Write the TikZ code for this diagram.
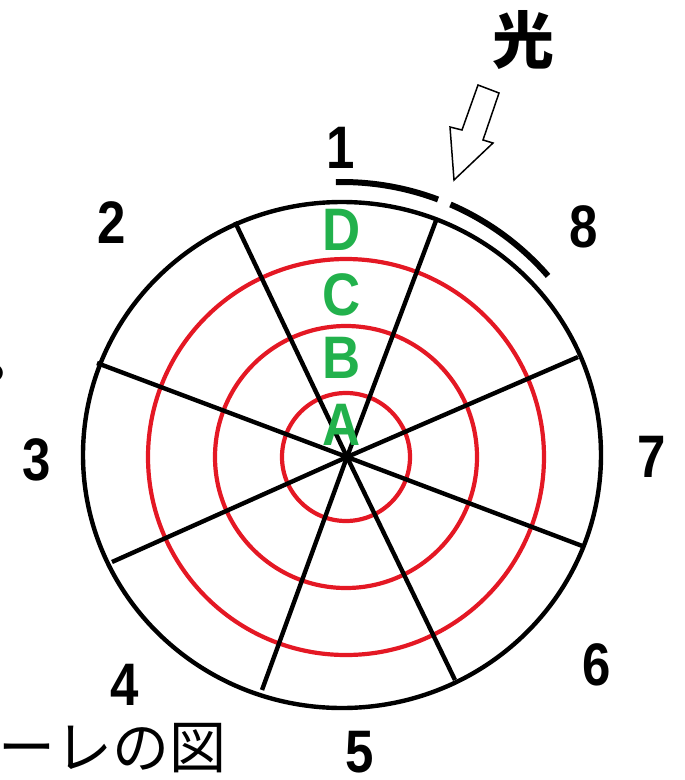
\documentclass[tikz,border=0pt]{standalone}
\usepackage{fontspec}
\setmainfont{Liberation Sans}
\newfontfamily\jp{Noto Sans CJK JP}
\definecolor{lgreen}{RGB}{34,177,76}
\definecolor{lred}{RGB}{228,24,36}
\begin{document}
\begin{tikzpicture}[x=1pt,y=-1pt,
  num/.style={font=\fontsize{60}{60}\selectfont\bfseries, inner sep=0pt, xscale=0.85},
  zone/.style={font=\fontsize{60}{60}\selectfont\bfseries, text=lgreen, inner sep=0pt, xscale=0.88},
  spoke/.style={line width=4.4pt, black},
  ring/.style={line width=4.2pt, lred},
  rim/.style={line width=4.4pt, black},
  lightarc/.style={line width=6pt, black},
  hollowarrow/.style={draw=black, fill=white, line width=1.5pt, line join=miter}]
\useasboundingbox (0,0) rectangle (685,780);
% centres
\coordinate (O) at (347,457);
\coordinate (E) at (342,455);
% outer rim
\draw[rim] (E) ellipse [x radius=259pt, y radius=253pt];
% red rings
\draw[ring] (346,457) circle [radius=64pt];
\draw[ring] (346,457) circle [radius=131pt];
\draw[ring] (346,457) circle [radius=198pt];
% spoke ends
\coordinate (s1) at (437,218);
\coordinate (s2) at (235,222);
\coordinate (s3) at (97,363);
\coordinate (s4) at (112,562);
\coordinate (s5) at (262,690);
\coordinate (s6) at (455,680);
\coordinate (s7) at (585,547);
\coordinate (s8) at (578,357);
\foreach \s in {s1,s2,s3,s4,s5,s6,s7,s8}{\draw[spoke] (O) -- (\s);}
% thick arc showing lit side
\draw[lightarc] ([shift={(E)}]91.3:273pt) arc[start angle=91.3, end angle=69.4, radius=273pt];
\draw[lightarc] ([shift={(E)}]66.6:273pt) arc[start angle=66.6, end angle=41, radius=273pt];
% light arrow
\draw[hollowarrow] (478,85) -- (499,93) -- (483,140) -- (493,143) -- (454,180) -- (450,127) -- (462,130) -- cycle;
\node[font=\jp\bfseries\fontsize{62}{62}\selectfont, inner sep=0pt] (light) at (523,40) {光};
% sector numbers
\node[num] (n1) at (341,148) {1};
\node[num] (n2) at (112,223) {2};
\node[num] (n3) at (37,460) {3};
\node[num] (n4) at (125,685) {4};
\node[num] (n5) at (360,752) {5};
\node[num] (n6) at (597,665) {6};
\node[num] (n7) at (652,457) {7};
\node[num] (n8) at (584,227) {8};
% zone letters
\node[zone] (zD) at (342,230) {D};
\node[zone] (zC) at (342,295) {C};
\node[zone] (zB) at (342,358) {B};
\node[zone] (zA) at (342,425) {A};
% cut-off caption text
\node[font=\jp\fontsize{57}{57}\selectfont, inner sep=0pt, anchor=base west] (stop) at (-17,378) {。};
\node[font=\jp\fontsize{57}{57}\selectfont, inner sep=0pt, anchor=base east] (cap) at (227,768) {ーレの図};
\end{tikzpicture}
\end{document}
